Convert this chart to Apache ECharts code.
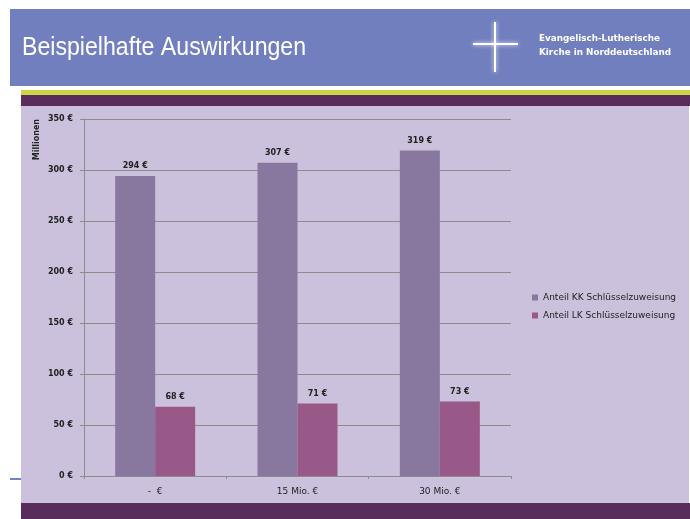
<!DOCTYPE html>
<html>
<head>
<meta charset="utf-8">
<script src="https://cdn.jsdelivr.net/npm/echarts@6/dist/echarts.min.js"></script>
<style>
html,body{margin:0;padding:0;background:#fff;}
#c{width:690px;height:519px;}
</style>
</head>
<body>
<div id="c"></div>
<script>
const categories = ['-  €', '15 Mio. €', '30 Mio. €'];
const seriesNames = ['Anteil KK Schlüsselzuweisung', 'Anteil LK Schlüsselzuweisung'];
const kkValues = [294, 307, 319];
const lkValues = [68, 71, 73];
const yTicks = [0, 50, 100, 150, 200, 250, 300, 350];

const chart = echarts.init(document.getElementById('c'), null, {renderer: 'canvas'});
const font = '"DejaVu Sans", sans-serif';
chart.setOption({
  backgroundColor: '#ffffff',
  animation: false,
  graphic: [
    {type: 'rect', z: -10, shape: {x: 10, y: 9, width: 680, height: 77}, style: {fill: '#727fbf'}},
    {type: 'text', z: 5, x: 22, y: 36, scaleX: 0.925, style: {text: 'Beispielhafte Auswirkungen', fill: '#ffffff', font: '25px "Liberation Sans", sans-serif'}},
    {type: 'rect', z: 5, shape: {x: 494, y: 22, width: 2, height: 50}, style: {fill: '#ffffff', shadowBlur: 4, shadowColor: 'rgba(255,255,255,0.9)'}},
    {type: 'rect', z: 5, shape: {x: 473, y: 43, width: 45, height: 2}, style: {fill: '#ffffff', shadowBlur: 4, shadowColor: 'rgba(255,255,255,0.9)'}},
    {type: 'text', z: 5, left: 539, top: 32, style: {text: 'Evangelisch-Lutherische\nKirche in Norddeutschland', fill: '#ffffff', font: 'bold 8.8px "DejaVu Sans", sans-serif', lineHeight: 14}},
    {type: 'rect', z: -10, shape: {x: 21, y: 90, width: 669, height: 5}, style: {fill: '#cdd44a'}},
    {type: 'rect', z: -10, shape: {x: 21, y: 95, width: 669, height: 11}, style: {fill: '#582d5c'}},
    {type: 'rect', z: -10, shape: {x: 21, y: 106, width: 668, height: 397}, style: {fill: '#cbc1dc'}},
    {type: 'rect', z: -10, shape: {x: 21, y: 503, width: 669, height: 16}, style: {fill: '#582d5c'}},
    {type: 'rect', z: -10, shape: {x: 10, y: 478, width: 11, height: 2}, style: {fill: '#7480c4'}}
  ],
  grid: {left: 84, right: 179, top: 119, bottom: 43, containLabel: false},
  legend: {
    orient: 'vertical', left: 527, top: 288, itemWidth: 6, itemHeight: 6, itemGap: 9,
    icon: 'rect',
    textStyle: {fontSize: 9, color: '#222', fontFamily: font},
    data: seriesNames
  },
  xAxis: {
    type: 'category', data: categories,
    axisLine: {lineStyle: {color: '#8c8c8c', width: 1}},
    axisTick: {show: true, length: 3, lineStyle: {color: '#8c8c8c'}},
    axisLabel: {fontSize: 9, color: '#222', fontFamily: font, margin: 11}
  },
  yAxis: {
    type: 'value', min: 0, max: 350, interval: 50,
    name: 'Millionen', nameLocation: 'end', nameRotate: 90,
    nameGap: 0,
    nameTextStyle: {fontSize: 8, fontWeight: 'bold', color: '#222', fontFamily: font, align: 'right', verticalAlign: 'bottom', padding: [0, 0, 43, 0]},
    axisLine: {show: true, lineStyle: {color: '#8c8c8c'}},
    axisTick: {show: true, length: 4, lineStyle: {color: '#8c8c8c'}},
    splitLine: {lineStyle: {color: '#8c8c8c', width: 1}},
    axisLabel: {fontSize: 8, fontWeight: 'bold', color: '#222', fontFamily: font, margin: 11,
      formatter: v => yTicks.includes(v) ? v + ' €' : ''}
  },
  series: [
    {name: seriesNames[0], type: 'bar', data: kkValues, barWidth: 40, barGap: '0%',
      itemStyle: {color: '#8878a0'},
      label: {show: true, position: 'top', distance: 6, fontSize: 8, fontWeight: 'bold', color: '#222', fontFamily: font, formatter: p => p.value + ' €'}},
    {name: seriesNames[1], type: 'bar', data: lkValues, barWidth: 40, barGap: '0%',
      itemStyle: {color: '#985888'},
      label: {show: true, position: 'top', distance: 6, fontSize: 8, fontWeight: 'bold', color: '#222', fontFamily: font, formatter: p => p.value + ' €'}}
  ]
});
</script>
</body>
</html>
